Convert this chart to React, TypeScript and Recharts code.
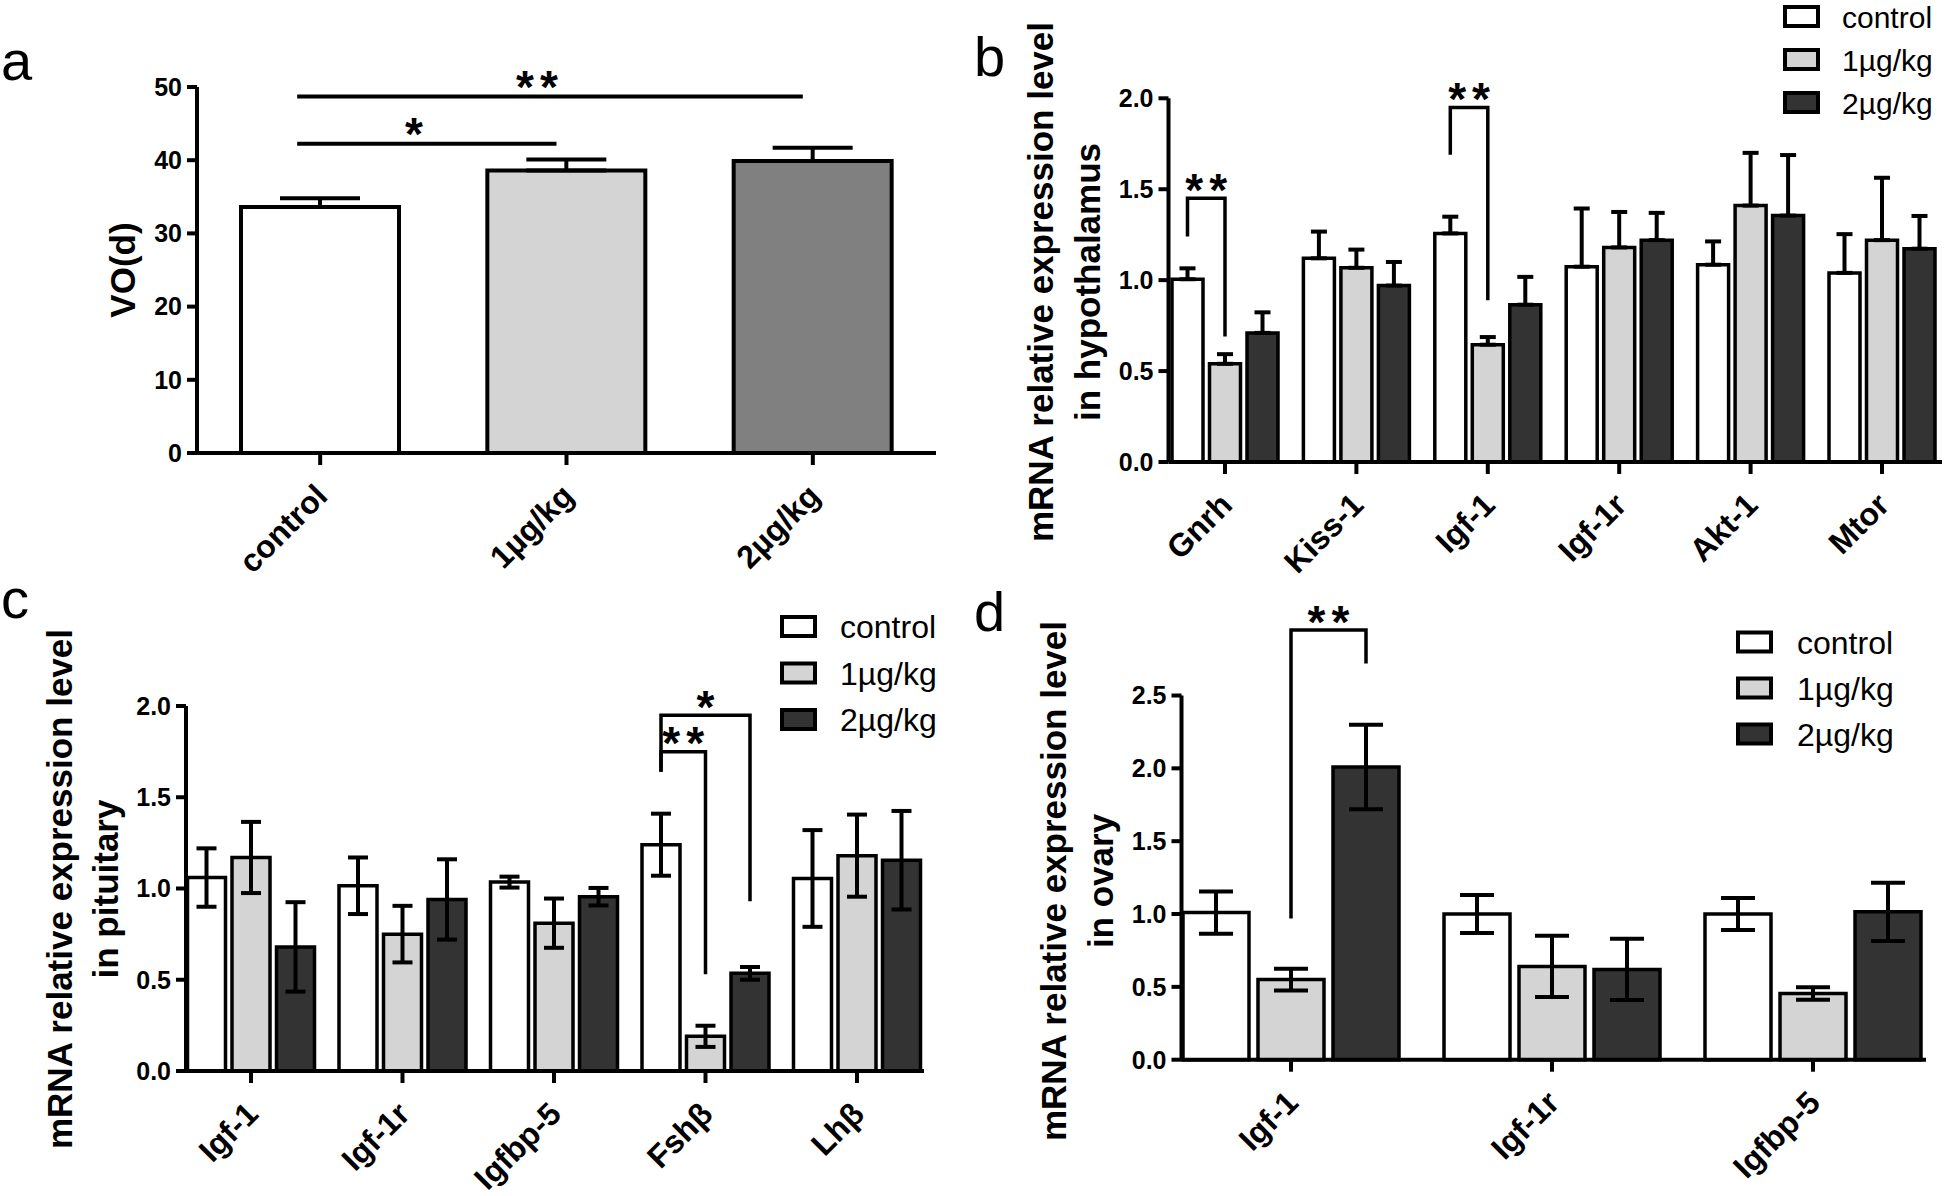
import React from 'react';
import { BarChart, Bar, XAxis, YAxis, ErrorBar, Cell, Rectangle, ReferenceLine } from 'recharts';

const FONT = '"Liberation Sans", Arial, Helvetica, sans-serif';

// ---- panel a: vaginal opening ----
const aGroups = ['control', '1µg/kg', '2µg/kg'];
const aVO = [33.6, 38.6, 39.9];
const aErr = [1.2, 1.5, 1.8];
const aTicks = [0, 10, 20, 30, 40, 50];
const aFills = ['#ffffff', '#d4d4d4', '#808080'];
const aSig = [
  { from: 'control', to: '1µg/kg', y: 42.25, mark: '*' },
  { from: 'control', to: '2µg/kg', y: 48.7, mark: '**' },
];

// ---- shared for b-d ----
const doses = ['control', '1µg/kg', '2µg/kg'];
const doseKeys = ['control', 'low', 'high'];
const doseFills = ['#ffffff', '#d4d4d4', '#333333'];
const relTicks = [0, 0.5, 1, 1.5, 2];

// ---- panel b: hypothalamus (upper error only) ----
const bGenes = ['Gnrh', 'Kiss-1', 'Igf-1', 'Igf-1r', 'Akt-1', 'Mtor'];
const bControl = [1.005, 1.12, 1.257, 1.074, 1.085, 1.04];
const bControlErr = [0.06, 0.147, 0.092, 0.32, 0.128, 0.213];
const bLow = [0.54, 1.068, 0.645, 1.18, 1.41, 1.22];
const bLowErr = [0.053, 0.1, 0.042, 0.195, 0.29, 0.343];
const bHigh = [0.71, 0.97, 0.865, 1.22, 1.355, 1.173];
const bHighErr = [0.113, 0.13, 0.153, 0.15, 0.333, 0.18];
const bSig = [
  { gene: 'Gnrh', from: 0, to: 1, top: 1.45, legFrom: 1.24, legTo: 0.69, mark: '**' },
  { gene: 'Igf-1', from: 0, to: 1, top: 1.95, legFrom: 1.69, legTo: 0.89, mark: '**' },
];

// ---- panel c: pituitary ----
const cGenes = ['Igf-1', 'Igf-1r', 'Igfbp-5', 'Fshβ', 'Lhβ'];
const cControl = [1.06, 1.015, 1.035, 1.24, 1.055];
const cControlErr = [0.16, 0.155, 0.03, 0.17, 0.265];
const cLow = [1.17, 0.75, 0.81, 0.19, 1.18];
const cLowErr = [0.195, 0.155, 0.135, 0.058, 0.225];
const cHigh = [0.68, 0.94, 0.955, 0.535, 1.155];
const cHighErr = [0.245, 0.22, 0.048, 0.035, 0.27];
const cSig = [
  { gene: 'Fshβ', from: 0, to: 2, top: 1.95, legFrom: 1.64, legTo: 0.93, mark: '*' },
  { gene: 'Fshβ', from: 0, to: 1, top: 1.75, legFrom: 1.64, legTo: 0.53, mark: '**' },
];

// ---- panel d: ovary ----
const dGenes = ['Igf-1', 'Igf-1r', 'Igfbp-5'];
const dControl = [1.01, 1.0, 1.0];
const dControlErr = [0.145, 0.13, 0.11];
const dLow = [0.55, 0.64, 0.455];
const dLowErr = [0.075, 0.21, 0.043];
const dHigh = [2.01, 0.62, 1.015];
const dHighErr = [0.29, 0.21, 0.2];
const dTicks = [0, 0.5, 1, 1.5, 2, 2.5];
const dSig = [{ gene: 'Igf-1', from: 1, to: 2, top: 2.95, legFrom: 0.97, legTo: 2.72, mark: '**' }];

type Sig = { gene: string; from: number; to: number; top: number; legFrom: number; legTo: number; mark: string };

const makeRows = (
  genes: string[], c: number[], ce: number[], l: number[], le: number[], h: number[], he: number[], upOnly: boolean,
) =>
  genes.map((g, i) => ({
    gene: g,
    control: c[i],
    controlErr: upOnly ? [0, ce[i]] : ce[i],
    low: l[i],
    lowErr: upOnly ? [0, le[i]] : le[i],
    high: h[i],
    highErr: upOnly ? [0, he[i]] : he[i],
  }));

const aData = aGroups.map((g, i) => ({ group: g, vo: aVO[i], err: [0, aErr[i]] }));
const bData = makeRows(bGenes, bControl, bControlErr, bLow, bLowErr, bHigh, bHighErr, true);
const cData = makeRows(cGenes, cControl, cControlErr, cLow, cLowErr, cHigh, cHighErr, false);
const dData = makeRows(dGenes, dControl, dControlErr, dLow, dLowErr, dHigh, dHighErr, false);

const AXIS = { stroke: '#000', strokeWidth: 4 };
const YTICK = { fill: '#000', fontSize: 25, fontWeight: 'bold', fontFamily: FONT };
const STAR = 46;

const XTick = (props: any) => {
  const { x, y, payload } = props;
  return (
    <g transform={`translate(${x + 9},${y + 31})`}>
      <text textAnchor="end" transform="rotate(-45)" fontSize={32} fontWeight="bold" fontFamily={FONT} fill="#000">
        {payload.value}
      </text>
    </g>
  );
};

const Stars = ({ x, y, mark }: { x: number; y: number; mark: string }) => (
  <text x={x} y={y + 0.58 * STAR} textAnchor="middle" fontSize={STAR} fontWeight="bold" letterSpacing={6} fontFamily={FONT} fill="#000">
    {mark}
  </text>
);

// control bar draws itself plus the significance brackets of its group
const controlShape = (sigs: Sig[], gap: number, sw: number) => (p: any) => {
  const { x, y, width, height, payload } = p;
  const mine = sigs.filter((s) => s.gene === payload.gene);
  const base = y + height;
  const k = height / payload.control;
  const py = (v: number) => base - v * k;
  const cx = (i: number) => x + width / 2 + i * (width + gap);
  return (
    <g>
      <Rectangle x={x} y={y} width={width} height={height} fill={doseFills[0]} stroke="#000" strokeWidth={sw} />
      {mine.map((s, i) => {
        const xa = cx(s.from);
        const xb = cx(s.to);
        return (
          <g key={i}>
            <path d={`M${xa},${py(s.legFrom)}V${py(s.top)}H${xb}V${py(s.legTo)}`} fill="none" stroke="#000" strokeWidth={3.5} />
            <Stars x={(xa + xb) / 2 + 3} y={py(s.top) - 19} mark={s.mark} />
          </g>
        );
      })}
    </g>
  );
};

const sigLine = (mark: string) => (p: any) => {
  const xa = p.x1 - 23;
  const xb = p.x2 - 10;
  return (
    <g>
      <line x1={xa} y1={p.y1} x2={xb} y2={p.y1} stroke="#000" strokeWidth={4} />
      <Stars x={(xa + xb) / 2 - 10} y={p.y1 - 20} mark={mark} />
    </g>
  );
};

const PanelA = () => (
  <BarChart width={960} height={590} data={aData} margin={{ top: 87, right: 24, bottom: 37, left: 117 }} barCategoryGap={44}>
    <XAxis dataKey="group" height={100} interval={0} axisLine={AXIS} tickLine={AXIS} tickSize={12} tick={<XTick />} />
    <YAxis width={80} domain={[0, 50]} ticks={aTicks} interval={0} axisLine={AXIS} tickLine={AXIS} tickSize={10} tickMargin={5} tick={YTICK} />
    <Bar dataKey="vo" stroke="#000" strokeWidth={4} isAnimationActive={false}>
      {aData.map((d, i) => (
        <Cell key={d.group} fill={aFills[i]} />
      ))}
      <ErrorBar dataKey="err" width={40} stroke="#000" strokeWidth={4} isAnimationActive={false} />
    </Bar>
    {aSig.map((s) => (
      <ReferenceLine key={s.to} segment={[{ x: s.from, y: s.y }, { x: s.to, y: s.y }]} shape={sigLine(s.mark)} />
    ))}
  </BarChart>
);

type GP = {
  data: any[]; sigs: Sig[]; width: number; height: number;
  margin: { top: number; right: number; bottom: number; left: number };
  max: number; ticks: number[]; gap: number; catGap: number; pad: { left: number; right: number }; cap: number;
};

const GenePanel = ({ data, sigs, width, height, margin, max, ticks, gap, catGap, pad, cap }: GP) => (
  <BarChart width={width} height={height} data={data} margin={margin} barGap={gap} barCategoryGap={catGap}>
    <XAxis dataKey="gene" height={100} interval={0} padding={pad} axisLine={AXIS} tickLine={AXIS} tickSize={12} tick={<XTick />} />
    <YAxis width={80} domain={[0, max]} ticks={ticks} interval={0} axisLine={AXIS} tickLine={AXIS} tickSize={10} tickMargin={5}
      tick={YTICK} tickFormatter={(v: number) => v.toFixed(1)} />
    {doseKeys.map((k, i) => (
      <Bar key={k} dataKey={k} name={doses[i]} fill={doseFills[i]} stroke="#000" strokeWidth={3.5} isAnimationActive={false}
        shape={i === 0 ? controlShape(sigs, gap, 3.5) : undefined}>
        <ErrorBar dataKey={`${k}Err`} width={cap} stroke="#000" strokeWidth={4} isAnimationActive={false} />
      </Bar>
    ))}
  </BarChart>
);

const Legend3 = ({ boxX, textX, baselines, size }: { boxX: number; textX: number; baselines: number[]; size: number }) => (
  <g>
    {doses.map((d, i) => (
      <g key={d}>
        <rect x={boxX + 2} y={baselines[i] - 21} width={33} height={19} fill={doseFills[i]} stroke="#000" strokeWidth={4} />
        <text x={textX} y={baselines[i]} fontSize={size} fontFamily={FONT} fill="#000">{d}</text>
      </g>
    ))}
  </g>
);

const YTitle = ({ x, cy, lines }: { x: number[]; cy: number; lines: string[] }) => (
  <g>
    {lines.map((l, i) => (
      <text key={i} transform={`translate(${x[i]},${cy}) rotate(-90)`} textAnchor="middle" fontSize={35} fontWeight="bold" fontFamily={FONT} fill="#000">
        {l}
      </text>
    ))}
  </g>
);

export default function App() {
  return (
    <div style={{ position: 'absolute', left: 0, top: 0, width: 1944, height: 1196, background: '#fff', overflow: 'hidden' }}>
      <div style={{ position: 'absolute', left: 0, top: 0 }}>
        <PanelA />
      </div>
      <div style={{ position: 'absolute', left: 960, top: 0 }}>
        <GenePanel data={bData} sigs={bSig} width={984} height={590} margin={{ top: 98.3, right: 2, bottom: 28, left: 128.5 }}
          max={2} ticks={relTicks} gap={6.5} catGap={12.7} pad={{ left: -9.2, right: -5.7 }} cap={8} />
      </div>
      <div style={{ position: 'absolute', left: 0, top: 590 }}>
        <GenePanel data={cData} sigs={cSig} width={960} height={606} margin={{ top: 116, right: 36, bottom: 25, left: 106 }}
          max={2} ticks={relTicks} gap={6.5} catGap={12.25} pad={{ left: -10.75, right: -8.75 }} cap={10} />
      </div>
      <div style={{ position: 'absolute', left: 960, top: 590 }}>
        <GenePanel data={dData} sigs={dSig} width={984} height={606} margin={{ top: 105.5, right: 18, bottom: 36.3, left: 141.5 }}
          max={2.5} ticks={dTicks} gap={9} catGap={22.5} pad={{ left: -21, right: -17.5 }} cap={17} />
      </div>
      <svg width={1944} height={1196} style={{ position: 'absolute', left: 0, top: 0, pointerEvents: 'none' }}>
        <g fontFamily={FONT} fontSize={56} fill="#000">
          <text x={1} y={80}>a</text>
          <text x={974} y={76}>b</text>
          <text x={1} y={618}>c</text>
          <text x={974} y={631}>d</text>
        </g>
        <YTitle x={[135]} cy={270} lines={['VO(d)']} />
        <YTitle x={[1053, 1100]} cy={282} lines={['mRNA relative expression level', 'in hypothalamus']} />
        <YTitle x={[72, 118]} cy={889} lines={['mRNA relative expression level', 'in pituitary']} />
        <YTitle x={[1066, 1113]} cy={881} lines={['mRNA relative expression level', 'in ovary']} />
        <Legend3 boxX={1783} textX={1842} baselines={[28, 71, 114]} size={30} />
        <Legend3 boxX={780} textX={840} baselines={[638, 684.5, 731]} size={32} />
        <Legend3 boxX={1736} textX={1797} baselines={[653.5, 699.5, 745.5]} size={32} />
      </svg>
    </div>
  );
}
